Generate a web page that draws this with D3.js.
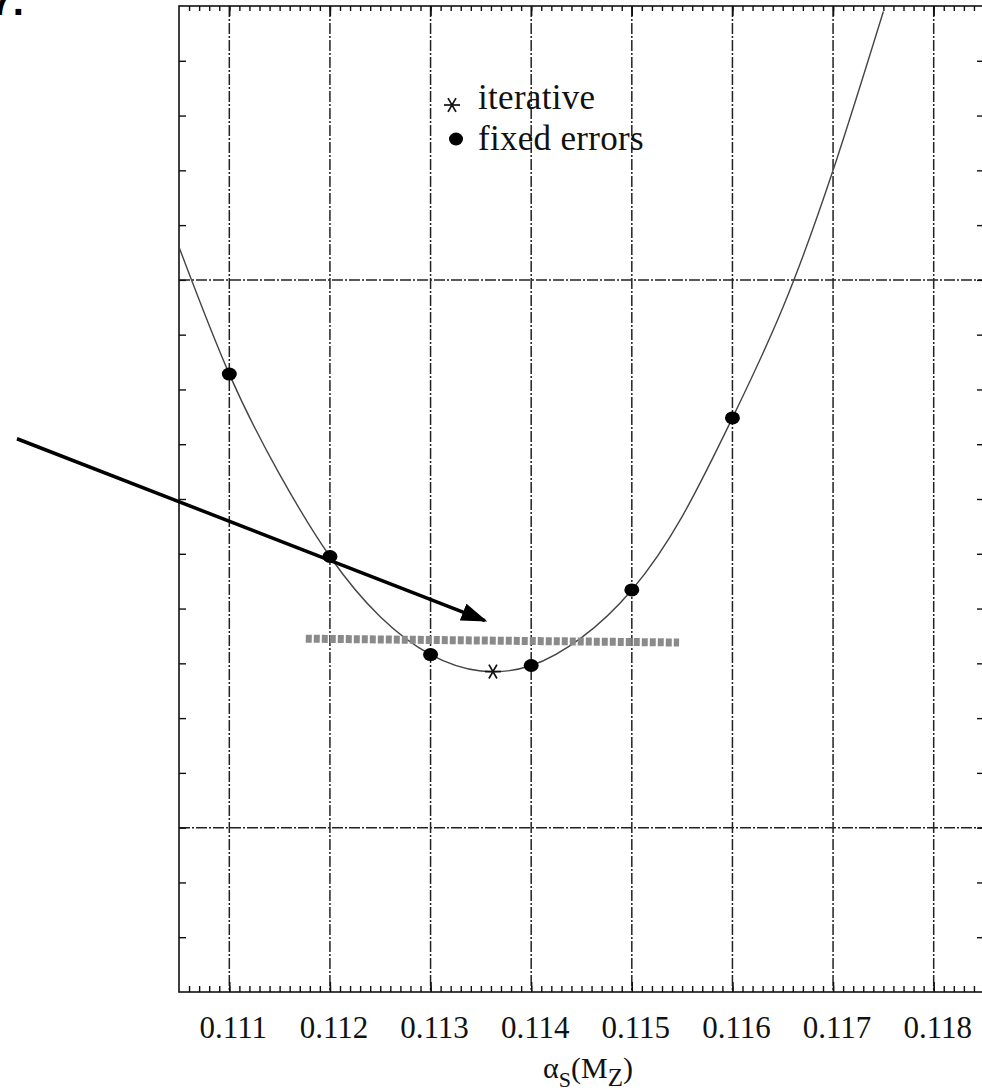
<!DOCTYPE html>
<html>
<head>
<meta charset="utf-8">
<script src="https://cdn.jsdelivr.net/npm/d3@7"></script>
<style>
  body { margin: 0; background: #fff; }
  svg { display: block; }
</style>
</head>
<body>
<svg id="myGraph" width="982" height="1091"></svg>
<script>
// x軸の目盛り
var majorTicks = [0.111, 0.112, 0.113, 0.114, 0.115, 0.116, 0.117, 0.118];
var tickLabels = ['0.111', '0.112', '0.113', '0.114', '0.115', '0.116', '0.117', '0.118'];
var gridY = [0, 10];

// fixed errors の点
var fixedX = [0.111, 0.112, 0.113, 0.114, 0.115, 0.116];
var fixedY = [8.28, 4.95, 3.16, 2.96, 4.34, 7.48];

// iterative の点
var iterX = [0.11362];
var iterY = [2.85];

// 曲線
var curveX = [0.1105, 0.1110, 0.1115, 0.1120, 0.1125, 0.1130, 0.1135, 0.1140,
              0.1145, 0.1150, 0.1155, 0.1160, 0.1165, 0.1170, 0.1175];
var curveY = [10.6, 8.28, 6.45, 4.95, 3.85, 3.16, 2.86, 2.96,
              3.47, 4.34, 5.68, 7.48, 9.49, 12.0, 14.9];

// 灰色の太い点線
var bandX = [0.11176, 0.11547];
var bandY = [3.45, 3.38];

// 矢印
var arrowX = [0.10889, 0.11354];
var arrowY = [7.10, 3.78];

var svg = d3.select('#myGraph');

var x = d3.scaleLinear().domain([0.1105, 0.1185]).range([179, 984]);
var y = d3.scaleLinear().domain([-3, 15]).range([992, 6]);

var minorX = d3.range(1106, 1185).map(function(v) { return v / 10000; });
var minorY = d3.range(-2, 15);

var serif = '"Liberation Serif", "Times New Roman", serif';

svg.append('defs').append('clipPath')
  .attr('id', 'plotClip')
  .append('rect')
  .attr('x', 179).attr('y', 6)
  .attr('width', 805).attr('height', 986);

svg.append('defs').append('marker')
  .attr('id', 'head')
  .attr('viewBox', '0 0 10 7')
  .attr('refX', 9).attr('refY', 3.5)
  .attr('markerWidth', 7.5).attr('markerHeight', 5.2)
  .attr('markerUnits', 'strokeWidth')
  .attr('orient', 'auto')
  .append('path')
  .attr('d', 'M0,0 L10,3.5 L0,7 Z')
  .attr('fill', '#000');

// 補助線（縦）
svg.append('g')
  .selectAll('line')
  .data(majorTicks)
  .enter()
  .append('line')
  .attr('x1', function(d) { return x(d); })
  .attr('x2', function(d) { return x(d); })
  .attr('y1', y(15)).attr('y2', y(-3))
  .attr('stroke', '#222')
  .attr('stroke-width', 1.5)
  .attr('stroke-dasharray', '11,2,2,2');

// 補助線（横）
svg.append('g')
  .selectAll('line')
  .data(gridY)
  .enter()
  .append('line')
  .attr('x1', x(0.1105)).attr('x2', x(0.1185))
  .attr('y1', function(d) { return y(d); })
  .attr('y2', function(d) { return y(d); })
  .attr('stroke', '#222')
  .attr('stroke-width', 1.5)
  .attr('stroke-dasharray', '11,2,2,2');

// 目盛り（内向き）
function tickAxis(axis, tx, ty) {
  var g = svg.append('g')
    .attr('transform', 'translate(' + tx + ',' + ty + ')')
    .call(axis);
  g.select('.domain').remove();
  g.selectAll('.tick line').attr('stroke', '#111').attr('stroke-width', 1.4);
  return g;
}
tickAxis(d3.axisBottom(x).tickValues(minorX).tickSize(-6).tickFormat(''), 0, 992);
tickAxis(d3.axisTop(x).tickValues(minorX).tickSize(-5).tickFormat(''), 0, 6);
tickAxis(d3.axisBottom(x).tickValues(majorTicks).tickSize(-10).tickFormat(''), 0, 992);
tickAxis(d3.axisTop(x).tickValues(majorTicks).tickSize(-10).tickFormat(''), 0, 6);
tickAxis(d3.axisLeft(y).tickValues(minorY).tickSize(-7).tickFormat(''), 179, 0);
tickAxis(d3.axisRight(y).tickValues(minorY).tickSize(-7).tickFormat(''), 984, 0);

// x軸ラベル
var labels = svg.append('g')
  .attr('transform', 'translate(0,992)')
  .call(d3.axisBottom(x).tickValues(majorTicks).tickSize(0).tickPadding(24)
    .tickFormat(function(d, i) { return tickLabels[i]; }));
labels.select('.domain').remove();
labels.selectAll('text')
  .attr('dx', 3.5)
  .attr('font-family', serif)
  .attr('font-size', 31)
  .attr('fill', '#111');

// 枠
svg.append('rect')
  .attr('x', 179).attr('y', 6)
  .attr('width', 805).attr('height', 986)
  .attr('fill', 'none')
  .attr('stroke', '#111')
  .attr('stroke-width', 1.6);

// 曲線
var line = d3.line()
  .x(function(d) { return x(d[0]); })
  .y(function(d) { return y(d[1]); })
  .curve(d3.curveNatural);

svg.append('path')
  .datum(curveX.map(function(d, i) { return [d, curveY[i]]; }))
  .attr('clip-path', 'url(#plotClip)')
  .attr('d', line)
  .attr('fill', 'none')
  .attr('stroke', '#444')
  .attr('stroke-width', 1.4);

// 灰色の点線
svg.append('path')
  .datum(bandX.map(function(d, i) { return [d, bandY[i]]; }))
  .attr('d', d3.line().x(function(d) { return x(d[0]); }).y(function(d) { return y(d[1]); }))
  .attr('fill', 'none')
  .attr('stroke', '#8a8a8a')
  .attr('stroke-width', 8)
  .attr('stroke-dasharray', '6,2');

// fixed errors
svg.append('g')
  .selectAll('ellipse')
  .data(fixedX)
  .enter()
  .append('ellipse')
  .attr('cx', function(d) { return x(d); })
  .attr('cy', function(d, i) { return y(fixedY[i]); })
  .attr('rx', 7.5)
  .attr('ry', 6.5)
  .attr('fill', '#000');

// iterative（アスタリスク）
function star(g, cx, cy, r) {
  [0, 60, 120].forEach(function(a) {
    var rad = a * Math.PI / 180;
    g.append('line')
      .attr('x1', cx - r * Math.cos(rad)).attr('y1', cy - r * Math.sin(rad))
      .attr('x2', cx + r * Math.cos(rad)).attr('y2', cy + r * Math.sin(rad))
      .attr('stroke', '#111')
      .attr('stroke-width', 1.7);
  });
}
iterX.forEach(function(d, i) {
  star(svg.append('g'), x(d), y(iterY[i]), 8);
});

// 矢印
svg.append('line')
  .attr('x1', x(arrowX[0])).attr('y1', y(arrowY[0]))
  .attr('x2', x(arrowX[1])).attr('y2', y(arrowY[1]))
  .attr('stroke', '#000')
  .attr('stroke-width', 3.5)
  .attr('marker-end', 'url(#head)');

// 凡例
star(svg.append('g'), 452, 105, 8);
svg.append('ellipse')
  .attr('cx', 456).attr('cy', 139)
  .attr('rx', 7).attr('ry', 6.5)
  .attr('fill', '#000');
svg.append('text')
  .attr('x', 478).attr('y', 109)
  .attr('font-family', serif)
  .attr('font-size', 35)
  .attr('letter-spacing', 0.3)
  .attr('fill', '#111')
  .text('iterative');
svg.append('text')
  .attr('x', 478).attr('y', 150)
  .attr('font-family', serif)
  .attr('font-size', 35)
  .attr('letter-spacing', 0.3)
  .attr('fill', '#111')
  .text('fixed errors');

// 軸タイトル α_s(M_Z)
var title = svg.append('text')
  .attr('x', 543).attr('y', 1078)
  .attr('font-family', serif)
  .attr('font-size', 30)
  .attr('fill', '#111');
title.append('tspan').text('α');
title.append('tspan').attr('font-size', 22).attr('dy', 9).text('S');
title.append('tspan').attr('dy', -9).text('(M');
title.append('tspan').attr('font-size', 25).attr('dy', 8).text('Z');
title.append('tspan').attr('dy', -8).text(')');

// 左上の切れた図番号
svg.append('text')
  .attr('x', -9.5).attr('y', 15)
  .attr('font-family', '"Liberation Sans", Arial, sans-serif')
  .attr('font-weight', 'bold')
  .attr('font-size', 40)
  .attr('fill', '#000')
  .text('7.');
</script>
</body>
</html>
